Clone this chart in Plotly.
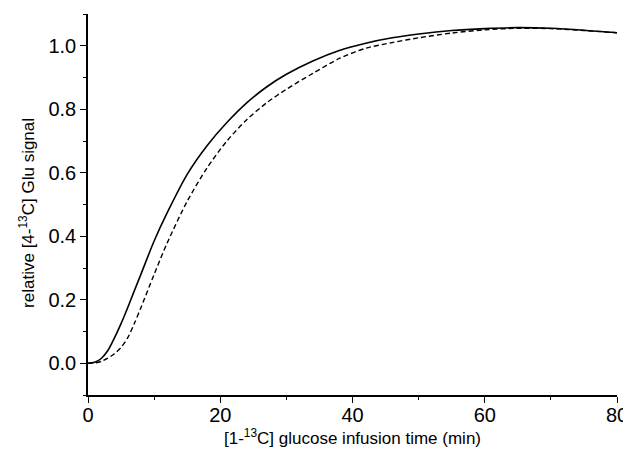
import plotly.graph_objects as go

# infusion time (min)
time_min = [0, 1, 2, 3, 4, 5, 6, 7, 8, 10, 12, 15, 18, 21, 24, 27, 30, 34, 38, 42, 46, 50, 55, 60, 65, 70, 75, 80]

# relative [4-13C] Glu signal, solid curve
glu_solid = [0, 0.003, 0.015, 0.04, 0.08, 0.125, 0.175, 0.228, 0.28, 0.385, 0.475, 0.595, 0.685, 0.758, 0.82,
             0.87, 0.91, 0.952, 0.985, 1.008, 1.025, 1.037, 1.048, 1.054, 1.057, 1.055, 1.049, 1.041]

# relative [4-13C] Glu signal, dashed curve
glu_dashed = [0, 0.001, 0.006, 0.016, 0.03, 0.05, 0.08, 0.125, 0.175, 0.28, 0.38, 0.51, 0.615, 0.70, 0.767,
              0.82, 0.863, 0.913, 0.96, 0.992, 1.01, 1.025, 1.04, 1.05, 1.055, 1.054, 1.048, 1.041]

FONT = "Liberation Sans, Arial, sans-serif"

fig = go.Figure()
fig.add_trace(go.Scatter(x=time_min, y=glu_dashed, mode="lines",
                         line=dict(color="black", width=1.4, dash="5px,3px", shape="spline", smoothing=0.8)))
fig.add_trace(go.Scatter(x=time_min, y=glu_solid, mode="lines",
                         line=dict(color="black", width=1.6, shape="spline", smoothing=0.8)))

# page body adds an 8px offset, so the figure is 8px smaller than the window
fig.update_layout(
    width=623, height=454,
    margin=dict(l=80, r=14, t=6, b=67),
    paper_bgcolor="white", plot_bgcolor="white",
    showlegend=False,
    font=dict(family=FONT, color="black", size=17),
)
fig.update_xaxes(
    range=[0, 80], tickvals=[0, 20, 40, 60, 80],
    ticks="outside", ticklen=6, tickwidth=1.3, tickcolor="black",
    minor=dict(dtick=10, ticks="outside", ticklen=3, tickwidth=1.2, tickcolor="black"),
    showline=True, linecolor="black", linewidth=1.5,
    showgrid=False, zeroline=False, automargin=False,
    tickfont=dict(size=20), ticklabelstandoff=-5,
)
fig.update_yaxes(
    range=[-0.1, 1.1], tickvals=[0, 0.2, 0.4, 0.6, 0.8, 1.0], tickformat=".1f",
    ticks="outside", ticklen=6, tickwidth=1.3, tickcolor="black",
    minor=dict(dtick=0.1, ticks="outside", ticklen=3, tickwidth=1.2, tickcolor="black"),
    showline=True, linecolor="black", linewidth=1.5,
    showgrid=False, zeroline=False, automargin=False,
    tickfont=dict(size=20),
)

# axis titles
fig.add_annotation(text="[1-<sup>13</sup>C] glucose infusion time (min)",
                   xref="paper", yref="paper", x=0.5, y=0, yshift=-42,
                   xanchor="center", yanchor="middle", showarrow=False)
fig.add_annotation(text="relative [4-<sup>13</sup>C] Glu signal", textangle=-90,
                   xref="paper", yref="paper", x=0, xshift=-61, y=0.478,
                   xanchor="center", yanchor="middle", showarrow=False)

fig.write_html("out.html")
